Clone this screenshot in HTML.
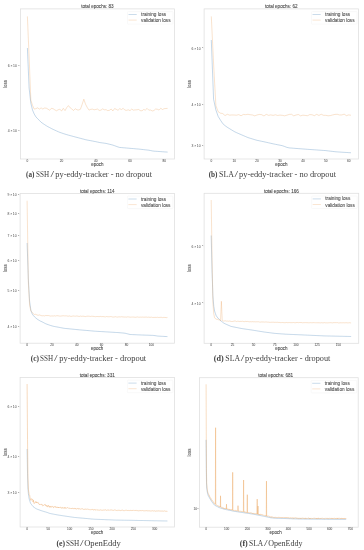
<!DOCTYPE html><html><head><meta charset="utf-8"><style>
html,body{margin:0;padding:0;background:#fff;width:364px;height:550px;overflow:hidden}
svg{position:absolute;left:0;top:0;filter:blur(0.3px)}
.s{font-family:"Liberation Sans",sans-serif}
.c{font-family:"Liberation Serif",serif;fill:#404040}
</style></head><body>
<svg width="364" height="550" viewBox="0 0 364 550">
<polyline points="27.4,48 29.11,88.09 30.82,103.08 32.53,110.07 34.24,114.07 35.95,116.92 37.66,118.69 39.37,120.43 41.08,122.17 42.79,123.44 44.5,124.56 46.21,125.68 47.92,126.69 49.63,127.59 51.34,128.49 53.05,129.35 54.76,130.13 56.47,130.91 58.18,131.69 59.89,132.4 61.6,132.98 63.31,133.57 65.02,134.12 66.73,134.64 68.44,135.11 70.15,135.58 71.86,136.04 73.57,136.51 75.28,136.97 76.99,137.42 78.7,137.88 80.41,138.33 82.12,138.78 83.83,139.23 85.54,139.68 87.25,140.04 88.96,140.36 90.67,140.68 92.38,141.01 94.09,141.33 95.8,141.68 97.51,142.05 99.22,142.43 100.93,142.72 102.64,142.95 104.35,143.18 106.06,143.41 107.77,143.83 109.48,144.24 111.19,144.66 112.9,145.11 114.61,145.73 116.32,146.35 118.03,146.97 119.74,147.45 121.45,147.59 123.16,147.74 124.87,147.89 126.58,148.03 128.29,148.18 130,148.33 131.71,148.47 133.42,148.62 135.13,148.77 136.84,148.91 138.55,149.06 140.26,149.24 141.97,149.43 143.68,149.63 145.39,149.82 147.1,150.01 148.81,150.2 150.52,150.55 152.23,150.9 153.94,151.15 155.65,151.27 157.36,151.39 159.07,151.51 160.78,151.63 162.49,151.75 164.2,151.87 165.91,151.99 167.62,152.1" fill="none" stroke="#4f88bb" stroke-opacity="0.33" stroke-width="1.0" stroke-linejoin="round"/>
<polyline points="27.4,16.4 29.11,57.25 30.82,100.08 32.53,105.35 34.24,109.1 35.95,108.66 37.66,107.84 39.37,109.14 41.08,107.86 42.79,109.01 44.5,108.04 46.21,108.13 47.92,109.11 49.63,110.27 51.34,108.35 53.05,108.66 54.76,109.83 56.47,110.77 58.18,109.77 59.89,109.31 61.6,110.93 63.31,108.33 65.02,110.6 66.73,107.6 68.44,105.6 70.15,107.8 71.86,109.06 73.57,110.49 75.28,108.71 76.99,109.83 78.7,109.99 80.41,109.24 82.12,104.5 83.83,99.2 85.54,104.2 87.25,107.5 88.96,110.11 90.67,109.4 92.38,109.08 94.09,109.84 95.8,109.47 97.51,109.04 99.22,110.42 100.93,110.16 102.64,108.88 104.35,109.81 106.06,109.67 107.77,110.65 109.48,110.24 111.19,109.01 112.9,110.94 114.61,108.53 116.32,109.37 118.03,110.32 119.74,108.63 121.45,109.57 123.16,108.31 124.87,110.07 126.58,110.34 128.29,109.8 130,110.65 131.71,109.08 133.42,110.15 135.13,109.86 136.84,109.82 138.55,109.48 140.26,110.55 141.97,110.85 143.68,109.53 145.39,110.06 147.1,108.37 148.81,110.16 150.52,110.01 152.23,110.98 153.94,110.5 155.65,109 157.36,109.28 159.07,110.07 160.78,108.26 162.49,109.49 164.2,108.67 165.91,108.53 167.62,108.37" fill="none" stroke="#eba35c" stroke-opacity="0.3" stroke-width="1.0" stroke-linejoin="round"/>
<rect x="20.4" y="8.9" width="154.1" height="150.1" fill="none" stroke="#e0e0e0" stroke-width="0.8"/>
<text class="s" x="97.45" y="8.1" font-size="4.6" fill="#4a4a4a" stroke="#4a4a4a" stroke-width="0.1" text-anchor="middle">total epochs: 83</text>
<rect x="127.5" y="11.6" width="45.5" height="12.5" rx="0.8" fill="#fff" stroke="#f2f2f2" stroke-width="0.5"/>
<line x1="128.5" y1="14.5" x2="136.7" y2="14.5" stroke="#4f88bb" stroke-opacity="0.33" stroke-width="0.9"/>
<line x1="128.5" y1="20.1" x2="136.7" y2="20.1" stroke="#eba35c" stroke-opacity="0.3" stroke-width="0.9"/>
<text class="s" x="141.1" y="16" font-size="4.7" fill="#555" stroke="#555" stroke-width="0.1">training loss</text>
<text class="s" x="141.1" y="22.1" font-size="4.7" fill="#555" stroke="#555" stroke-width="0.1">validation loss</text>
<line x1="27.4" y1="159" x2="27.4" y2="159.8" stroke="#d0d0d0" stroke-width="0.35"/>
<text class="s" x="27.4" y="162.1" font-size="3.2" fill="#333" text-anchor="middle">0</text>
<line x1="61.6" y1="159" x2="61.6" y2="159.8" stroke="#d0d0d0" stroke-width="0.35"/>
<text class="s" x="61.6" y="162.1" font-size="3.2" fill="#333" text-anchor="middle">20</text>
<line x1="95.8" y1="159" x2="95.8" y2="159.8" stroke="#d0d0d0" stroke-width="0.35"/>
<text class="s" x="95.8" y="162.1" font-size="3.2" fill="#333" text-anchor="middle">40</text>
<line x1="130" y1="159" x2="130" y2="159.8" stroke="#d0d0d0" stroke-width="0.35"/>
<text class="s" x="130" y="162.1" font-size="3.2" fill="#333" text-anchor="middle">60</text>
<line x1="164.2" y1="159" x2="164.2" y2="159.8" stroke="#d0d0d0" stroke-width="0.35"/>
<text class="s" x="164.2" y="162.1" font-size="3.2" fill="#333" text-anchor="middle">80</text>
<line x1="19.8" y1="66.1" x2="20.4" y2="66.1" stroke="#d0d0d0" stroke-width="0.35"/>
<text class="s" x="19.6" y="67.25" font-size="3.4" fill="#444" text-anchor="end">6 × 10<tspan font-size="2.4" dy="-1.4">−1</tspan></text>
<line x1="19.8" y1="131.2" x2="20.4" y2="131.2" stroke="#d0d0d0" stroke-width="0.35"/>
<text class="s" x="19.6" y="132.35" font-size="3.4" fill="#444" text-anchor="end">4 × 10<tspan font-size="2.4" dy="-1.4">−1</tspan></text>
<text class="s" x="97.45" y="166.1" font-size="4.5" fill="#505050" stroke="#505050" stroke-width="0.1" text-anchor="middle">epoch</text>
<text class="s" transform="translate(7.3,83.95) rotate(-90)" font-size="4.5" fill="#505050" stroke="#505050" stroke-width="0.1" text-anchor="middle">loss</text>
<text class="c" x="26" y="176.8" font-size="7.6" font-weight="bold" textLength="8.4" lengthAdjust="spacingAndGlyphs">(a)</text>
<text class="c" x="36.1" y="176.8" font-size="7.6" textLength="13.1" lengthAdjust="spacingAndGlyphs">SSH</text>
<text class="c" x="50.4" y="176.8" font-size="7.6" textLength="3.6" lengthAdjust="spacingAndGlyphs">/</text>
<text class="c" x="55.3" y="176.8" font-size="7.6" textLength="96.7" lengthAdjust="spacingAndGlyphs">py-eddy-tracker - no dropout</text>
<polyline points="211.3,40 213.59,99.24 215.88,109.91 218.17,116.42 220.46,120.13 222.75,123.62 225.04,125.65 227.33,127.31 229.62,128.71 231.91,130.11 234.2,131.51 236.49,132.64 238.78,133.63 241.07,134.61 243.36,135.6 245.65,136.59 247.94,137.57 250.23,138.28 252.52,138.98 254.81,139.68 257.1,140.33 259.39,140.81 261.68,141.3 263.97,141.78 266.26,142.28 268.55,142.8 270.84,143.31 273.13,143.83 275.42,144.29 277.71,144.75 280,145.21 282.29,145.68 284.58,146.47 286.87,147.39 289.16,147.9 291.45,148.07 293.74,148.25 296.03,148.43 298.32,148.61 300.61,148.78 302.9,148.96 305.19,149.14 307.48,149.3 309.77,149.47 312.06,149.63 314.35,149.79 316.64,149.95 318.93,150.11 321.22,150.28 323.51,150.44 325.8,150.6 328.09,150.88 330.38,151.16 332.67,151.43 334.96,151.71 337.25,151.9 339.54,152.04 341.83,152.19 344.12,152.34 346.41,152.48 348.7,152.63 350.99,152.77" fill="none" stroke="#4f88bb" stroke-opacity="0.33" stroke-width="1.0" stroke-linejoin="round"/>
<polyline points="211.3,16.4 213.59,63.79 215.88,105.63 218.17,111.72 220.46,113.17 222.75,113.57 225.04,115.6 227.33,114.28 229.62,115.17 231.91,114.94 234.2,115.03 236.49,115.19 238.78,114.64 241.07,115.78 243.36,114.44 245.65,114.7 247.94,114.3 250.23,114.74 252.52,114.99 254.81,115.87 257.1,114.93 259.39,114.44 261.68,114.7 263.97,116.01 266.26,114.33 268.55,115.33 270.84,114.89 273.13,115.39 275.42,114.81 277.71,115.44 280,115.08 282.29,115.35 284.58,115.8 286.87,115.21 289.16,114.42 291.45,114.27 293.74,115.85 296.03,115.02 298.32,114.49 300.61,115.83 302.9,115.17 305.19,115.43 307.48,115.7 309.77,114.62 312.06,114.74 314.35,115.68 316.64,114.33 318.93,115.46 321.22,114.25 323.51,115.31 325.8,115.33 328.09,115.77 330.38,115.57 332.67,114.96 334.96,114.4 337.25,114.31 339.54,114.98 341.83,114.94 344.12,114.15 346.41,115.64 348.7,114.92 350.99,115.26" fill="none" stroke="#eba35c" stroke-opacity="0.3" stroke-width="1.0" stroke-linejoin="round"/>
<rect x="204.1" y="8.9" width="154.4" height="150.1" fill="none" stroke="#e0e0e0" stroke-width="0.8"/>
<text class="s" x="281.3" y="8.1" font-size="4.6" fill="#4a4a4a" stroke="#4a4a4a" stroke-width="0.1" text-anchor="middle">total epochs: 62</text>
<rect x="311.5" y="11.6" width="45.5" height="12.5" rx="0.8" fill="#fff" stroke="#f2f2f2" stroke-width="0.5"/>
<line x1="312.5" y1="14.5" x2="320.7" y2="14.5" stroke="#4f88bb" stroke-opacity="0.33" stroke-width="0.9"/>
<line x1="312.5" y1="20.1" x2="320.7" y2="20.1" stroke="#eba35c" stroke-opacity="0.3" stroke-width="0.9"/>
<text class="s" x="325.1" y="16" font-size="4.7" fill="#555" stroke="#555" stroke-width="0.1">training loss</text>
<text class="s" x="325.1" y="22.1" font-size="4.7" fill="#555" stroke="#555" stroke-width="0.1">validation loss</text>
<line x1="211.3" y1="159" x2="211.3" y2="159.8" stroke="#d0d0d0" stroke-width="0.35"/>
<text class="s" x="211.3" y="162.1" font-size="3.2" fill="#333" text-anchor="middle">0</text>
<line x1="234.2" y1="159" x2="234.2" y2="159.8" stroke="#d0d0d0" stroke-width="0.35"/>
<text class="s" x="234.2" y="162.1" font-size="3.2" fill="#333" text-anchor="middle">10</text>
<line x1="257.1" y1="159" x2="257.1" y2="159.8" stroke="#d0d0d0" stroke-width="0.35"/>
<text class="s" x="257.1" y="162.1" font-size="3.2" fill="#333" text-anchor="middle">20</text>
<line x1="280" y1="159" x2="280" y2="159.8" stroke="#d0d0d0" stroke-width="0.35"/>
<text class="s" x="280" y="162.1" font-size="3.2" fill="#333" text-anchor="middle">30</text>
<line x1="302.9" y1="159" x2="302.9" y2="159.8" stroke="#d0d0d0" stroke-width="0.35"/>
<text class="s" x="302.9" y="162.1" font-size="3.2" fill="#333" text-anchor="middle">40</text>
<line x1="325.8" y1="159" x2="325.8" y2="159.8" stroke="#d0d0d0" stroke-width="0.35"/>
<text class="s" x="325.8" y="162.1" font-size="3.2" fill="#333" text-anchor="middle">50</text>
<line x1="348.7" y1="159" x2="348.7" y2="159.8" stroke="#d0d0d0" stroke-width="0.35"/>
<text class="s" x="348.7" y="162.1" font-size="3.2" fill="#333" text-anchor="middle">60</text>
<line x1="203.5" y1="48.7" x2="204.1" y2="48.7" stroke="#d0d0d0" stroke-width="0.35"/>
<text class="s" x="203.3" y="49.85" font-size="3.4" fill="#444" text-anchor="end">6 × 10<tspan font-size="2.4" dy="-1.4">−1</tspan></text>
<line x1="203.5" y1="104.8" x2="204.1" y2="104.8" stroke="#d0d0d0" stroke-width="0.35"/>
<text class="s" x="203.3" y="105.95" font-size="3.4" fill="#444" text-anchor="end">4 × 10<tspan font-size="2.4" dy="-1.4">−1</tspan></text>
<line x1="203.5" y1="146.1" x2="204.1" y2="146.1" stroke="#d0d0d0" stroke-width="0.35"/>
<text class="s" x="203.3" y="147.25" font-size="3.4" fill="#444" text-anchor="end">3 × 10<tspan font-size="2.4" dy="-1.4">−1</tspan></text>
<text class="s" x="281.3" y="166.1" font-size="4.5" fill="#505050" stroke="#505050" stroke-width="0.1" text-anchor="middle">epoch</text>
<text class="s" transform="translate(191,83.95) rotate(-90)" font-size="4.5" fill="#505050" stroke="#505050" stroke-width="0.1" text-anchor="middle">loss</text>
<text class="c" x="208.7" y="176.8" font-size="7.6" font-weight="bold" textLength="8.8" lengthAdjust="spacingAndGlyphs">(b)</text>
<text class="c" x="219" y="176.8" font-size="7.6" textLength="15" lengthAdjust="spacingAndGlyphs">SLA</text>
<text class="c" x="234.6" y="176.8" font-size="7.6" textLength="3.6" lengthAdjust="spacingAndGlyphs">/</text>
<text class="c" x="239" y="176.8" font-size="7.6" textLength="97" lengthAdjust="spacingAndGlyphs">py-eddy-tracker - no dropout</text>
<polyline points="27.1,243 28.34,279.04 29.58,301.03 30.83,310.08 32.07,313.6 33.31,315.46 34.55,316.86 35.79,317.94 37.04,319.02 38.28,319.8 39.52,320.57 40.76,321.25 42,321.8 43.25,322.45 44.49,323.11 45.73,323.76 46.97,324.24 48.21,324.67 49.46,325.11 50.7,325.51 51.94,325.88 53.18,326.23 54.42,326.47 55.67,326.71 56.91,326.95 58.15,327.18 59.39,327.42 60.63,327.66 61.88,327.89 63.12,328.13 64.36,328.34 65.6,328.46 66.84,328.58 68.09,328.71 69.33,328.83 70.57,328.96 71.81,329.08 73.05,329.21 74.3,329.33 75.54,329.45 76.78,329.58 78.02,329.7 79.26,329.83 80.51,329.94 81.75,330.05 82.99,330.15 84.23,330.25 85.47,330.36 86.72,330.46 87.96,330.57 89.2,330.68 90.44,330.79 91.68,330.91 92.93,331.02 94.17,331.13 95.41,331.22 96.65,331.3 97.89,331.37 99.14,331.45 100.38,331.52 101.62,331.6 102.86,331.67 104.1,331.74 105.35,331.82 106.59,331.89 107.83,331.97 109.07,332.04 110.31,332.12 111.56,332.19 112.8,332.26 114.04,332.34 115.28,332.41 116.52,332.49 117.77,332.56 119.01,332.66 120.25,332.77 121.49,332.88 122.73,332.99 123.98,333.11 125.22,333.26 126.46,333.58 127.7,333.9 128.94,334.23 130.19,334.51 131.43,334.56 132.67,334.61 133.91,334.67 135.15,334.72 136.4,334.77 137.64,334.83 138.88,334.88 140.12,334.93 141.36,334.99 142.61,335.03 143.85,335.07 145.09,335.12 146.33,335.16 147.57,335.2 148.82,335.24 150.06,335.29 151.3,335.33 152.54,335.37 153.78,335.46 155.03,335.65 156.27,335.84 157.51,336.03 158.75,336.14 159.99,336.2 161.24,336.27 162.48,336.34 163.72,336.4 164.96,336.47 166.2,336.53 167.45,336.6" fill="none" stroke="#4f88bb" stroke-opacity="0.33" stroke-width="1.0" stroke-linejoin="round"/>
<polyline points="27.1,200.7 28.34,282.04 29.58,305.02 30.83,310.95 32.07,312.51 33.31,313.59 34.55,314.54 35.79,314.3 37.04,315.01 38.28,315.25 39.52,314.92 40.76,315.41 42,315.87 43.25,315.68 44.49,315.91 45.73,315.48 46.97,315.57 48.21,315.5 49.46,315.81 50.7,316.12 51.94,315.9 53.18,316.04 54.42,315.79 55.67,316.05 56.91,315.65 58.15,315.79 59.39,316.05 60.63,316.09 61.88,315.92 63.12,315.74 64.36,315.87 65.6,315.86 66.84,315.92 68.09,316.24 69.33,315.92 70.57,316.32 71.81,316.33 73.05,315.92 74.3,316.11 75.54,316.19 76.78,315.97 78.02,316.2 79.26,316.46 80.51,316.08 81.75,316.34 82.99,316.13 84.23,316.38 85.47,316.55 86.72,316.24 87.96,316.17 89.2,316.23 90.44,316.46 91.68,316.24 92.93,316.29 94.17,316.5 95.41,316.71 96.65,316.51 97.89,316.52 99.14,316.65 100.38,316.43 101.62,316.66 102.86,316.5 104.1,316.71 105.35,316.89 106.59,316.51 107.83,316.75 109.07,316.79 110.31,316.62 111.56,316.69 112.8,317.02 114.04,317.04 115.28,316.69 116.52,316.96 117.77,317.08 119.01,316.8 120.25,316.97 121.49,316.75 122.73,316.9 123.98,317.04 125.22,317.02 126.46,317.11 127.7,316.84 128.94,316.97 130.19,317.19 131.43,317.09 132.67,317.05 133.91,317.05 135.15,317.3 136.4,317.15 137.64,316.94 138.88,317.27 140.12,317.1 141.36,317.15 142.61,317.08 143.85,317.19 145.09,317.15 146.33,317.07 147.57,317.31 148.82,317.11 150.06,317.4 151.3,317.11 152.54,317.43 153.78,317.46 155.03,317.35 156.27,317.45 157.51,317.28 158.75,317.49 159.99,317.38 161.24,317.31 162.48,317.63 163.72,317.41 164.96,317.42 166.2,317.63 167.45,317.45" fill="none" stroke="#eba35c" stroke-opacity="0.3" stroke-width="1.0" stroke-linejoin="round"/>
<rect x="20.1" y="193.4" width="154.3" height="149.8" fill="none" stroke="#e0e0e0" stroke-width="0.8"/>
<text class="s" x="97.25" y="192.6" font-size="4.6" fill="#4a4a4a" stroke="#4a4a4a" stroke-width="0.1" text-anchor="middle">total epochs: 114</text>
<rect x="127.4" y="196.1" width="45.5" height="12.5" rx="0.8" fill="#fff" stroke="#f2f2f2" stroke-width="0.5"/>
<line x1="128.4" y1="199" x2="136.6" y2="199" stroke="#4f88bb" stroke-opacity="0.33" stroke-width="0.9"/>
<line x1="128.4" y1="204.6" x2="136.6" y2="204.6" stroke="#eba35c" stroke-opacity="0.3" stroke-width="0.9"/>
<text class="s" x="141" y="200.5" font-size="4.7" fill="#555" stroke="#555" stroke-width="0.1">training loss</text>
<text class="s" x="141" y="206.6" font-size="4.7" fill="#555" stroke="#555" stroke-width="0.1">validation loss</text>
<line x1="27.1" y1="343.2" x2="27.1" y2="344" stroke="#d0d0d0" stroke-width="0.35"/>
<text class="s" x="27.1" y="346.3" font-size="3.2" fill="#333" text-anchor="middle">0</text>
<line x1="51.94" y1="343.2" x2="51.94" y2="344" stroke="#d0d0d0" stroke-width="0.35"/>
<text class="s" x="51.94" y="346.3" font-size="3.2" fill="#333" text-anchor="middle">20</text>
<line x1="76.78" y1="343.2" x2="76.78" y2="344" stroke="#d0d0d0" stroke-width="0.35"/>
<text class="s" x="76.78" y="346.3" font-size="3.2" fill="#333" text-anchor="middle">40</text>
<line x1="101.62" y1="343.2" x2="101.62" y2="344" stroke="#d0d0d0" stroke-width="0.35"/>
<text class="s" x="101.62" y="346.3" font-size="3.2" fill="#333" text-anchor="middle">60</text>
<line x1="126.46" y1="343.2" x2="126.46" y2="344" stroke="#d0d0d0" stroke-width="0.35"/>
<text class="s" x="126.46" y="346.3" font-size="3.2" fill="#333" text-anchor="middle">80</text>
<line x1="151.3" y1="343.2" x2="151.3" y2="344" stroke="#d0d0d0" stroke-width="0.35"/>
<text class="s" x="151.3" y="346.3" font-size="3.2" fill="#333" text-anchor="middle">100</text>
<line x1="19.5" y1="195.1" x2="20.1" y2="195.1" stroke="#d0d0d0" stroke-width="0.35"/>
<text class="s" x="19.3" y="196.25" font-size="3.4" fill="#444" text-anchor="end">9 × 10<tspan font-size="2.4" dy="-1.4">−1</tspan></text>
<line x1="19.5" y1="214.3" x2="20.1" y2="214.3" stroke="#d0d0d0" stroke-width="0.35"/>
<text class="s" x="19.3" y="215.45" font-size="3.4" fill="#444" text-anchor="end">8 × 10<tspan font-size="2.4" dy="-1.4">−1</tspan></text>
<line x1="19.5" y1="236" x2="20.1" y2="236" stroke="#d0d0d0" stroke-width="0.35"/>
<text class="s" x="19.3" y="237.15" font-size="3.4" fill="#444" text-anchor="end">7 × 10<tspan font-size="2.4" dy="-1.4">−1</tspan></text>
<line x1="19.5" y1="261" x2="20.1" y2="261" stroke="#d0d0d0" stroke-width="0.35"/>
<text class="s" x="19.3" y="262.15" font-size="3.4" fill="#444" text-anchor="end">6 × 10<tspan font-size="2.4" dy="-1.4">−1</tspan></text>
<line x1="19.5" y1="290.8" x2="20.1" y2="290.8" stroke="#d0d0d0" stroke-width="0.35"/>
<text class="s" x="19.3" y="291.95" font-size="3.4" fill="#444" text-anchor="end">5 × 10<tspan font-size="2.4" dy="-1.4">−1</tspan></text>
<line x1="19.5" y1="327.1" x2="20.1" y2="327.1" stroke="#d0d0d0" stroke-width="0.35"/>
<text class="s" x="19.3" y="328.25" font-size="3.4" fill="#444" text-anchor="end">4 × 10<tspan font-size="2.4" dy="-1.4">−1</tspan></text>
<text class="s" x="97.25" y="350.3" font-size="4.5" fill="#505050" stroke="#505050" stroke-width="0.1" text-anchor="middle">epoch</text>
<text class="s" transform="translate(7.3,268.3) rotate(-90)" font-size="4.5" fill="#505050" stroke="#505050" stroke-width="0.1" text-anchor="middle">loss</text>
<text class="c" x="30.7" y="361.1" font-size="7.6" font-weight="bold" textLength="8.3" lengthAdjust="spacingAndGlyphs">(c)</text>
<text class="c" x="40.1" y="361.1" font-size="7.6" textLength="13.1" lengthAdjust="spacingAndGlyphs">SSH</text>
<text class="c" x="53.9" y="361.1" font-size="7.6" textLength="3.6" lengthAdjust="spacingAndGlyphs">/</text>
<text class="c" x="59.3" y="361.1" font-size="7.6" textLength="86.9" lengthAdjust="spacingAndGlyphs">py-eddy-tracker - dropout</text>
<polyline points="211.2,235.5 212.05,271.91 212.9,295.89 213.74,306.02 214.59,311.01 215.44,313.71 216.29,315.88 217.14,316.98 217.98,318.09 218.83,318.99 219.68,319.78 220.53,320.56 221.38,321.28 222.22,321.92 223.07,322.55 223.92,323.19 224.77,323.65 225.62,324.02 226.46,324.4 227.31,324.77 228.16,325.15 229.01,325.52 229.86,325.9 230.7,326.27 231.55,326.51 232.4,326.68 233.25,326.85 234.1,327.02 234.94,327.19 235.79,327.36 236.64,327.53 237.49,327.7 238.34,327.87 239.18,328.04 240.03,328.21 240.88,328.38 241.73,328.55 242.58,328.68 243.42,328.81 244.27,328.93 245.12,329.05 245.97,329.18 246.82,329.3 247.66,329.42 248.51,329.55 249.36,329.67 250.21,329.79 251.06,329.92 251.9,330.04 252.75,330.16 253.6,330.3 254.45,330.44 255.3,330.58 256.14,330.71 256.99,330.85 257.84,330.99 258.69,331.13 259.54,331.27 260.38,331.41 261.23,331.55 262.08,331.69 262.93,331.82 263.78,331.96 264.62,332.08 265.47,332.19 266.32,332.3 267.17,332.4 268.02,332.51 268.86,332.62 269.71,332.73 270.56,332.83 271.41,332.94 272.26,333.05 273.1,333.16 273.95,333.27 274.8,333.37 275.65,333.45 276.5,333.51 277.34,333.57 278.19,333.63 279.04,333.69 279.89,333.76 280.74,333.82 281.58,333.88 282.43,333.94 283.28,334 284.13,334.06 284.98,334.13 285.82,334.19 286.67,334.23 287.52,334.27 288.37,334.3 289.22,334.34 290.06,334.37 290.91,334.41 291.76,334.45 292.61,334.48 293.46,334.52 294.3,334.56 295.15,334.59 296,334.63 296.85,334.66 297.7,334.7 298.54,334.74 299.39,334.77 300.24,334.81 301.09,334.85 301.94,334.89 302.78,334.93 303.63,334.97 304.48,335.01 305.33,335.04 306.18,335.08 307.02,335.12 307.87,335.16 308.72,335.2 309.57,335.24 310.42,335.28 311.26,335.32 312.11,335.36 312.96,335.39 313.81,335.43 314.66,335.47 315.5,335.51 316.35,335.55 317.2,335.59 318.05,335.63 318.9,335.67 319.74,335.7 320.59,335.74 321.44,335.78 322.29,335.82 323.14,335.86 323.98,335.9 324.83,335.92 325.68,335.94 326.53,335.96 327.38,335.97 328.22,335.99 329.07,336.01 329.92,336.03 330.77,336.05 331.62,336.07 332.46,336.09 333.31,336.1 334.16,336.12 335.01,336.14 335.86,336.16 336.7,336.18 337.55,336.2 338.4,336.22 339.25,336.23 340.1,336.25 340.94,336.27 341.79,336.29 342.64,336.31 343.49,336.33 344.34,336.35 345.18,336.36 346.03,336.38 346.88,336.4 347.73,336.42 348.58,336.44 349.42,336.46 350.27,336.48 351.12,336.49" fill="none" stroke="#4f88bb" stroke-opacity="0.33" stroke-width="1.0" stroke-linejoin="round"/>
<polyline points="211.2,200 212.05,257.86 212.9,302.79 213.74,313.74 214.59,317.79 215.44,318.69 216.29,319.23 217.14,319.11 217.98,319.71 218.83,319.81 219.68,319.98 220.53,320.74 221.38,301.3 222.22,320.49 223.07,321.1 223.92,320.97 224.77,320.86 225.62,320.84 226.46,321.13 227.31,321.04 228.16,321.22 229.01,321.25 229.86,320.98 230.7,321.37 231.55,321.5 232.4,321.51 233.25,321.33 234.1,321.04 234.94,321.04 235.79,321.13 236.64,321.55 237.49,321.25 238.34,321.3 239.18,321.57 240.03,321.31 240.88,321.45 241.73,321.42 242.58,321.27 243.42,321.53 244.27,321.67 245.12,321.39 245.97,321.45 246.82,321.55 247.66,321.42 248.51,321.63 249.36,321.78 250.21,321.74 251.06,321.71 251.9,321.86 252.75,321.61 253.6,321.8 254.45,321.75 255.3,321.86 256.14,321.69 256.99,321.97 257.84,321.74 258.69,321.79 259.54,322.04 260.38,322.12 261.23,321.96 262.08,321.97 262.93,321.94 263.78,321.97 264.62,322.11 265.47,321.98 266.32,321.99 267.17,322.13 268.02,322.05 268.86,322.24 269.71,322.32 270.56,322.33 271.41,322.25 272.26,322.23 273.1,322.28 273.95,322.16 274.8,322.42 275.65,322.32 276.5,322.34 277.34,322.28 278.19,322.42 279.04,322.49 279.89,322.45 280.74,322.63 281.58,322.59 282.43,322.47 283.28,322.59 284.13,322.73 284.98,322.61 285.82,322.64 286.67,322.47 287.52,322.61 288.37,322.6 289.22,322.58 290.06,322.59 290.91,322.65 291.76,322.64 292.61,322.62 293.46,322.52 294.3,322.61 295.15,322.78 296,322.61 296.85,322.49 297.7,322.49 298.54,322.65 299.39,322.51 300.24,322.52 301.09,322.53 301.94,322.64 302.78,322.81 303.63,322.65 304.48,322.65 305.33,322.64 306.18,322.67 307.02,322.65 307.87,322.74 308.72,322.79 309.57,322.74 310.42,322.65 311.26,322.73 312.11,322.81 312.96,322.58 313.81,322.61 314.66,322.73 315.5,322.75 316.35,322.74 317.2,322.73 318.05,322.8 318.9,322.7 319.74,322.8 320.59,322.85 321.44,322.69 322.29,322.82 323.14,322.78 323.98,322.84 324.83,322.58 325.68,322.85 326.53,322.81 327.38,322.87 328.22,322.88 329.07,322.67 329.92,322.79 330.77,322.63 331.62,322.77 332.46,322.87 333.31,322.65 334.16,322.7 335.01,322.62 335.86,322.66 336.7,322.67 337.55,322.64 338.4,322.91 339.25,322.88 340.1,322.76 340.94,322.84 341.79,322.83 342.64,322.78 343.49,322.75 344.34,322.83 345.18,322.8 346.03,322.71 346.88,322.75 347.73,322.83 348.58,322.83 349.42,322.71 350.27,322.83 351.12,322.91" fill="none" stroke="#eba35c" stroke-opacity="0.3" stroke-width="1.0" stroke-linejoin="round"/>
<rect x="204.1" y="193.3" width="154.6" height="150" fill="none" stroke="#e0e0e0" stroke-width="0.8"/>
<text class="s" x="281.4" y="192.5" font-size="4.6" fill="#4a4a4a" stroke="#4a4a4a" stroke-width="0.1" text-anchor="middle">total epochs: 166</text>
<rect x="311.7" y="196" width="45.5" height="12.5" rx="0.8" fill="#fff" stroke="#f2f2f2" stroke-width="0.5"/>
<line x1="312.7" y1="198.9" x2="320.9" y2="198.9" stroke="#4f88bb" stroke-opacity="0.33" stroke-width="0.9"/>
<line x1="312.7" y1="204.5" x2="320.9" y2="204.5" stroke="#eba35c" stroke-opacity="0.3" stroke-width="0.9"/>
<text class="s" x="325.3" y="200.4" font-size="4.7" fill="#555" stroke="#555" stroke-width="0.1">training loss</text>
<text class="s" x="325.3" y="206.5" font-size="4.7" fill="#555" stroke="#555" stroke-width="0.1">validation loss</text>
<line x1="211.2" y1="343.3" x2="211.2" y2="344.1" stroke="#d0d0d0" stroke-width="0.35"/>
<text class="s" x="211.2" y="346.4" font-size="3.2" fill="#333" text-anchor="middle">0</text>
<line x1="232.4" y1="343.3" x2="232.4" y2="344.1" stroke="#d0d0d0" stroke-width="0.35"/>
<text class="s" x="232.4" y="346.4" font-size="3.2" fill="#333" text-anchor="middle">25</text>
<line x1="253.6" y1="343.3" x2="253.6" y2="344.1" stroke="#d0d0d0" stroke-width="0.35"/>
<text class="s" x="253.6" y="346.4" font-size="3.2" fill="#333" text-anchor="middle">50</text>
<line x1="274.8" y1="343.3" x2="274.8" y2="344.1" stroke="#d0d0d0" stroke-width="0.35"/>
<text class="s" x="274.8" y="346.4" font-size="3.2" fill="#333" text-anchor="middle">75</text>
<line x1="296" y1="343.3" x2="296" y2="344.1" stroke="#d0d0d0" stroke-width="0.35"/>
<text class="s" x="296" y="346.4" font-size="3.2" fill="#333" text-anchor="middle">100</text>
<line x1="317.2" y1="343.3" x2="317.2" y2="344.1" stroke="#d0d0d0" stroke-width="0.35"/>
<text class="s" x="317.2" y="346.4" font-size="3.2" fill="#333" text-anchor="middle">125</text>
<line x1="338.4" y1="343.3" x2="338.4" y2="344.1" stroke="#d0d0d0" stroke-width="0.35"/>
<text class="s" x="338.4" y="346.4" font-size="3.2" fill="#333" text-anchor="middle">150</text>
<line x1="203.5" y1="246.7" x2="204.1" y2="246.7" stroke="#d0d0d0" stroke-width="0.35"/>
<text class="s" x="203.3" y="247.85" font-size="3.4" fill="#444" text-anchor="end">6 × 10<tspan font-size="2.4" dy="-1.4">−1</tspan></text>
<line x1="203.5" y1="303.5" x2="204.1" y2="303.5" stroke="#d0d0d0" stroke-width="0.35"/>
<text class="s" x="203.3" y="304.65" font-size="3.4" fill="#444" text-anchor="end">4 × 10<tspan font-size="2.4" dy="-1.4">−1</tspan></text>
<text class="s" x="281.4" y="350.4" font-size="4.5" fill="#505050" stroke="#505050" stroke-width="0.1" text-anchor="middle">epoch</text>
<text class="s" transform="translate(191,268.3) rotate(-90)" font-size="4.5" fill="#505050" stroke="#505050" stroke-width="0.1" text-anchor="middle">loss</text>
<text class="c" x="213.7" y="361.1" font-size="7.6" font-weight="bold" textLength="9.9" lengthAdjust="spacingAndGlyphs">(d)</text>
<text class="c" x="225.3" y="361.1" font-size="7.6" textLength="14.8" lengthAdjust="spacingAndGlyphs">SLA</text>
<text class="c" x="240.7" y="361.1" font-size="7.6" textLength="3.6" lengthAdjust="spacingAndGlyphs">/</text>
<text class="c" x="245.1" y="361.1" font-size="7.6" textLength="85.2" lengthAdjust="spacingAndGlyphs">py-eddy-tracker - dropout</text>
<polyline points="27.1,449 27.53,473.73 27.95,488.01 28.38,493.68 28.8,496.51 29.23,499.09 29.65,500.46 30.08,501.83 30.5,503.2 30.93,503.76 31.35,504.33 31.78,504.89 32.2,505.45 32.63,506.01 33.05,506.54 33.48,506.85 33.9,507.16 34.33,507.48 34.76,507.79 35.18,508.1 35.61,508.41 36.03,508.71 36.46,508.87 36.88,509.04 37.31,509.2 37.73,509.36 38.16,509.52 38.58,509.68 39.01,509.84 39.43,510 39.86,510.17 40.28,510.33 40.71,510.49 41.13,510.64 41.56,510.77 41.99,510.9 42.41,511.02 42.84,511.15 43.26,511.28 43.69,511.41 44.11,511.53 44.54,511.66 44.96,511.79 45.39,511.92 45.81,512.04 46.24,512.17 46.66,512.3 47.09,512.43 47.51,512.59 47.94,512.74 48.37,512.9 48.79,513.06 49.22,513.21 49.64,513.37 50.07,513.51 50.49,513.59 50.92,513.67 51.34,513.75 51.77,513.83 52.19,513.91 52.62,513.99 53.04,514.07 53.47,514.15 53.89,514.23 54.32,514.31 54.74,514.39 55.17,514.47 55.6,514.55 56.02,514.63 56.45,514.71 56.87,514.79 57.3,514.87 57.72,514.95 58.15,515.02 58.57,515.09 59,515.15 59.42,515.22 59.85,515.28 60.27,515.35 60.7,515.42 61.12,515.48 61.55,515.55 61.97,515.61 62.4,515.68 62.83,515.74 63.25,515.81 63.68,515.87 64.1,515.93 64.53,515.99 64.95,516.05 65.38,516.12 65.8,516.18 66.23,516.24 66.65,516.3 67.08,516.36 67.5,516.43 67.93,516.49 68.35,516.55 68.78,516.61 69.2,516.67 69.63,516.74 70.06,516.8 70.48,516.86 70.91,516.92 71.33,516.98 71.76,517.04 72.18,517.11 72.61,517.17 73.03,517.23 73.46,517.29 73.88,517.35 74.31,517.41 74.73,517.45 75.16,517.49 75.58,517.53 76.01,517.56 76.43,517.6 76.86,517.64 77.29,517.68 77.71,517.72 78.14,517.76 78.56,517.8 78.99,517.84 79.41,517.87 79.84,517.91 80.26,517.95 80.69,517.99 81.11,518.03 81.54,518.07 81.96,518.11 82.39,518.14 82.81,518.18 83.24,518.22 83.66,518.26 84.09,518.3 84.52,518.34 84.94,518.38 85.37,518.42 85.79,518.45 86.22,518.49 86.64,518.53 87.07,518.57 87.49,518.61 87.92,518.65 88.34,518.69 88.77,518.72 89.19,518.76 89.62,518.8 90.04,518.84 90.47,518.88 90.9,518.92 91.32,518.96 91.75,519 92.17,519.03 92.6,519.07 93.02,519.11 93.45,519.15 93.87,519.19 94.3,519.21 94.72,519.23 95.15,519.25 95.57,519.26 96,519.28 96.42,519.3 96.85,519.32 97.27,519.33 97.7,519.35 98.13,519.37 98.55,519.39 98.98,519.4 99.4,519.42 99.83,519.44 100.25,519.46 100.68,519.47 101.1,519.49 101.53,519.51 101.95,519.53 102.38,519.54 102.8,519.56 103.23,519.58 103.65,519.59 104.08,519.61 104.5,519.63 104.93,519.65 105.36,519.66 105.78,519.68 106.21,519.7 106.63,519.72 107.06,519.73 107.48,519.75 107.91,519.77 108.33,519.79 108.76,519.8 109.18,519.82 109.61,519.84 110.03,519.86 110.46,519.87 110.88,519.89 111.31,519.91 111.73,519.93 112.16,519.94 112.59,519.96 113.01,519.98 113.44,520 113.86,520.01 114.29,520.03 114.71,520.05 115.14,520.06 115.56,520.08 115.99,520.1 116.41,520.11 116.84,520.11 117.26,520.12 117.69,520.12 118.11,520.13 118.54,520.14 118.96,520.14 119.39,520.15 119.82,520.15 120.24,520.16 120.67,520.17 121.09,520.17 121.52,520.18 121.94,520.18 122.37,520.19 122.79,520.2 123.22,520.2 123.64,520.21 124.07,520.22 124.49,520.22 124.92,520.23 125.34,520.23 125.77,520.24 126.19,520.25 126.62,520.25 127.05,520.26 127.47,520.26 127.9,520.27 128.32,520.28 128.75,520.28 129.17,520.29 129.6,520.29 130.02,520.3 130.45,520.31 130.87,520.32 131.3,520.32 131.72,520.33 132.15,520.34 132.57,520.35 133,520.36 133.43,520.36 133.85,520.37 134.28,520.38 134.7,520.39 135.13,520.4 135.55,520.4 135.98,520.41 136.4,520.42 136.83,520.43 137.25,520.44 137.68,520.44 138.1,520.45 138.53,520.46 138.95,520.47 139.38,520.48 139.8,520.48 140.23,520.49 140.66,520.5 141.08,520.51 141.51,520.51 141.93,520.52 142.36,520.53 142.78,520.54 143.21,520.55 143.63,520.55 144.06,520.56 144.48,520.57 144.91,520.58 145.33,520.59 145.76,520.59 146.18,520.6 146.61,520.61 147.03,520.62 147.46,520.63 147.89,520.63 148.31,520.64 148.74,520.65 149.16,520.66 149.59,520.67 150.01,520.67 150.44,520.68 150.86,520.69 151.29,520.7 151.71,520.71 152.14,520.71 152.56,520.72 152.99,520.73 153.41,520.74 153.84,520.75 154.26,520.75 154.69,520.76 155.12,520.77 155.54,520.78 155.97,520.78 156.39,520.79 156.82,520.8 157.24,520.81 157.67,520.82 158.09,520.82 158.52,520.83 158.94,520.84 159.37,520.85 159.79,520.86 160.22,520.86 160.64,520.87 161.07,520.88 161.49,520.89 161.92,520.9 162.35,520.9 162.77,520.91 163.2,520.92 163.62,520.93 164.05,520.94 164.47,520.94 164.9,520.95 165.32,520.96 165.75,520.97 166.17,520.98 166.6,520.98 167.02,520.99 167.45,521" fill="none" stroke="#4f88bb" stroke-opacity="0.32" stroke-width="1.0" stroke-linejoin="round"/>
<polyline points="27.1,384 27.53,439.39 27.95,478.02 28.38,489.24 28.8,492.22 29.23,494.81 29.65,495.39 30.08,497.77 30.5,499.43 30.93,500.5 31.35,498.79 31.78,498.8 32.2,499.53 32.63,499.3 33.05,501.95 33.48,500.29 33.9,503.35 34.33,503.47 34.76,502.73 35.18,502.78 35.61,501.66 36.03,501.45 36.46,503.01 36.88,501.92 37.31,502.45 37.73,502.75 38.16,502.38 38.58,503.6 39.01,503.65 39.43,504.75 39.86,504.06 40.28,504.46 40.71,504.23 41.13,504.71 41.56,504.34 41.99,504.04 42.41,505.76 42.84,505.85 43.26,505.61 43.69,505.42 44.11,504.69 44.54,504.62 44.96,504.85 45.39,504.52 45.81,506.04 46.24,505.41 46.66,506.4 47.09,505.6 47.51,506.81 47.94,506.71 48.37,505.23 48.79,505.74 49.22,507.14 49.64,506.45 50.07,507.46 50.49,506.48 50.92,505.96 51.34,506.97 51.77,507.27 52.19,506.46 52.62,506.21 53.04,506.67 53.47,507.74 53.89,507.45 54.32,506.48 54.74,506.74 55.17,506.57 55.6,506.56 56.02,507.72 56.45,506.85 56.87,507.46 57.3,507.34 57.72,507.02 58.15,507.84 58.57,507.02 59,507.76 59.42,507.06 59.85,507.51 60.27,507.26 60.7,507.37 61.12,508.32 61.55,508.12 61.97,507.5 62.4,508.28 62.83,507.44 63.25,507.7 63.68,508.3 64.1,508.07 64.53,507.43 64.95,508.54 65.38,507.63 65.8,507.72 66.23,508.35 66.65,507.86 67.08,507.85 67.5,507.63 67.93,507.68 68.35,508.26 68.78,507.91 69.2,508.33 69.63,508.11 70.06,508.22 70.48,508.79 70.91,508.31 71.33,508.43 71.76,508.76 72.18,508.09 72.61,508.09 73.03,508.88 73.46,508.81 73.88,508.27 74.31,508.24 74.73,508.81 75.16,509.03 75.58,508.34 76.01,509.08 76.43,509.04 76.86,508.81 77.29,508.66 77.71,508.4 78.14,508.37 78.56,509.24 78.99,508.61 79.41,509.05 79.84,508.68 80.26,509.21 80.69,509.04 81.11,508.8 81.54,508.73 81.96,509.22 82.39,508.69 82.81,508.86 83.24,509.17 83.66,509.44 84.09,509.26 84.52,509.02 84.94,509.56 85.37,509.01 85.79,508.89 86.22,509.12 86.64,509.29 87.07,509.01 87.49,509.13 87.92,509.31 88.34,509.5 88.77,509.18 89.19,509.39 89.62,509.82 90.04,509.91 90.47,509.69 90.9,509.75 91.32,509.69 91.75,509.39 92.17,509.34 92.6,509.36 93.02,510.04 93.45,509.91 93.87,510.13 94.3,509.46 94.72,509.91 95.15,509.81 95.57,509.99 96,509.71 96.42,510.2 96.85,509.56 97.27,509.9 97.7,510.04 98.13,510.16 98.55,510.05 98.98,510.04 99.4,510.1 99.83,510.19 100.25,509.82 100.68,510.05 101.1,510.2 101.53,510.19 101.95,509.9 102.38,510.15 102.8,510.21 103.23,510.03 103.65,510.07 104.08,509.92 104.5,510.06 104.93,510.08 105.36,509.75 105.78,510.12 106.21,510.35 106.63,510.29 107.06,510.2 107.48,509.99 107.91,510.22 108.33,510.13 108.76,510.05 109.18,510.31 109.61,509.85 110.03,510.27 110.46,509.83 110.88,510.19 111.31,510.12 111.73,509.98 112.16,510.27 112.59,510.16 113.01,510.24 113.44,510.43 113.86,510.04 114.29,509.9 114.71,510.08 115.14,510.32 115.56,510.04 115.99,510.03 116.41,510.48 116.84,510.34 117.26,510.22 117.69,510.49 118.11,510.17 118.54,510.37 118.96,510.11 119.39,510.25 119.82,510.48 120.24,510.55 120.67,510.54 121.09,510.26 121.52,510.38 121.94,510.24 122.37,510.14 122.79,510.36 123.22,510.56 123.64,510.57 124.07,510.5 124.49,510.65 124.92,510.28 125.34,510.22 125.77,510.39 126.19,510.3 126.62,510.27 127.05,510.39 127.47,510.52 127.9,510.46 128.32,510.36 128.75,510.66 129.17,510.75 129.6,510.47 130.02,510.27 130.45,510.25 130.87,510.72 131.3,510.27 131.72,510.64 132.15,510.57 132.57,510.44 133,510.71 133.43,510.29 133.85,510.36 134.28,510.54 134.7,510.32 135.13,510.76 135.55,510.45 135.98,510.4 136.4,510.36 136.83,510.68 137.25,510.59 137.68,510.69 138.1,510.71 138.53,510.8 138.95,510.89 139.38,510.75 139.8,510.5 140.23,510.65 140.66,510.5 141.08,510.42 141.51,510.67 141.93,510.8 142.36,510.53 142.78,510.58 143.21,510.63 143.63,510.82 144.06,510.74 144.48,510.79 144.91,510.87 145.33,510.69 145.76,510.91 146.18,510.97 146.61,510.55 147.03,511 147.46,510.9 147.89,510.59 148.31,510.77 148.74,510.87 149.16,511.02 149.59,510.75 150.01,510.86 150.44,511.03 150.86,510.99 151.29,511.07 151.71,510.83 152.14,510.93 152.56,510.71 152.99,510.98 153.41,511.04 153.84,510.96 154.26,511 154.69,510.75 155.12,511.11 155.54,511.16 155.97,511.16 156.39,510.94 156.82,511.08 157.24,510.84 157.67,511.15 158.09,511.13 158.52,510.88 158.94,510.75 159.37,510.94 159.79,511 160.22,511.12 160.64,510.98 161.07,510.75 161.49,511.16 161.92,510.79 162.35,511.17 162.77,510.86 163.2,510.95 163.62,511.19 164.05,510.86 164.47,510.87 164.9,511.07 165.32,511.18 165.75,511.25 166.17,511.18 166.6,511.31 167.02,511.09 167.45,511.33" fill="none" stroke="#eba35c" stroke-opacity="0.4" stroke-width="1.0" stroke-linejoin="round"/>
<rect x="20.1" y="377.5" width="154.3" height="149.5" fill="none" stroke="#e0e0e0" stroke-width="0.8"/>
<text class="s" x="97.25" y="376.7" font-size="4.6" fill="#4a4a4a" stroke="#4a4a4a" stroke-width="0.1" text-anchor="middle">total epochs: 331</text>
<rect x="127.4" y="380.2" width="45.5" height="12.5" rx="0.8" fill="#fff" stroke="#f2f2f2" stroke-width="0.5"/>
<line x1="128.4" y1="383.1" x2="136.6" y2="383.1" stroke="#4f88bb" stroke-opacity="0.33" stroke-width="0.9"/>
<line x1="128.4" y1="388.7" x2="136.6" y2="388.7" stroke="#eba35c" stroke-opacity="0.3" stroke-width="0.9"/>
<text class="s" x="141" y="384.6" font-size="4.7" fill="#555" stroke="#555" stroke-width="0.1">training loss</text>
<text class="s" x="141" y="390.7" font-size="4.7" fill="#555" stroke="#555" stroke-width="0.1">validation loss</text>
<line x1="27.1" y1="527" x2="27.1" y2="527.8" stroke="#d0d0d0" stroke-width="0.35"/>
<text class="s" x="27.1" y="530.1" font-size="3.2" fill="#333" text-anchor="middle">0</text>
<line x1="48.37" y1="527" x2="48.37" y2="527.8" stroke="#d0d0d0" stroke-width="0.35"/>
<text class="s" x="48.37" y="530.1" font-size="3.2" fill="#333" text-anchor="middle">50</text>
<line x1="69.64" y1="527" x2="69.64" y2="527.8" stroke="#d0d0d0" stroke-width="0.35"/>
<text class="s" x="69.64" y="530.1" font-size="3.2" fill="#333" text-anchor="middle">100</text>
<line x1="90.91" y1="527" x2="90.91" y2="527.8" stroke="#d0d0d0" stroke-width="0.35"/>
<text class="s" x="90.91" y="530.1" font-size="3.2" fill="#333" text-anchor="middle">150</text>
<line x1="112.18" y1="527" x2="112.18" y2="527.8" stroke="#d0d0d0" stroke-width="0.35"/>
<text class="s" x="112.18" y="530.1" font-size="3.2" fill="#333" text-anchor="middle">200</text>
<line x1="133.45" y1="527" x2="133.45" y2="527.8" stroke="#d0d0d0" stroke-width="0.35"/>
<text class="s" x="133.45" y="530.1" font-size="3.2" fill="#333" text-anchor="middle">250</text>
<line x1="154.72" y1="527" x2="154.72" y2="527.8" stroke="#d0d0d0" stroke-width="0.35"/>
<text class="s" x="154.72" y="530.1" font-size="3.2" fill="#333" text-anchor="middle">300</text>
<line x1="19.5" y1="407" x2="20.1" y2="407" stroke="#d0d0d0" stroke-width="0.35"/>
<text class="s" x="19.3" y="408.15" font-size="3.4" fill="#444" text-anchor="end">6 × 10<tspan font-size="2.4" dy="-1.4">−1</tspan></text>
<line x1="19.5" y1="457.2" x2="20.1" y2="457.2" stroke="#d0d0d0" stroke-width="0.35"/>
<text class="s" x="19.3" y="458.35" font-size="3.4" fill="#444" text-anchor="end">4 × 10<tspan font-size="2.4" dy="-1.4">−1</tspan></text>
<line x1="19.5" y1="492.9" x2="20.1" y2="492.9" stroke="#d0d0d0" stroke-width="0.35"/>
<text class="s" x="19.3" y="494.05" font-size="3.4" fill="#444" text-anchor="end">3 × 10<tspan font-size="2.4" dy="-1.4">−1</tspan></text>
<text class="s" x="97.25" y="534.1" font-size="4.5" fill="#505050" stroke="#505050" stroke-width="0.1" text-anchor="middle">epoch</text>
<text class="s" transform="translate(7.3,452.25) rotate(-90)" font-size="4.5" fill="#505050" stroke="#505050" stroke-width="0.1" text-anchor="middle">loss</text>
<text class="c" x="56.4" y="546.2" font-size="7.6" font-weight="bold" textLength="8.6" lengthAdjust="spacingAndGlyphs">(e)</text>
<text class="c" x="65.9" y="546.2" font-size="7.6" textLength="13.3" lengthAdjust="spacingAndGlyphs">SSH</text>
<text class="c" x="79.9" y="546.2" font-size="7.6" textLength="3.6" lengthAdjust="spacingAndGlyphs">/</text>
<text class="c" x="84.2" y="546.2" font-size="7.6" textLength="36.6" lengthAdjust="spacingAndGlyphs">OpenEddy</text>
<polyline points="206.1,439.8 206.31,468.42 206.51,482.36 206.72,488.12 206.92,489.44 207.13,490.76 207.34,492.09 207.54,493.03 207.75,493.8 207.95,494.58 208.16,495.35 208.37,495.8 208.57,496.18 208.78,496.56 208.98,496.94 209.19,497.31 209.4,497.69 209.6,498.07 209.81,498.45 210.01,498.82 210.22,499.14 210.43,499.46 210.63,499.78 210.84,500.1 211.04,500.41 211.25,500.73 211.46,501.05 211.66,501.37 211.87,501.69 212.07,502.01 212.28,502.3 212.49,502.56 212.69,502.81 212.9,503.07 213.1,503.33 213.31,503.59 213.52,503.84 213.72,504.1 213.93,504.36 214.13,504.62 214.34,504.88 214.55,505.13 214.75,505.28 214.96,505.39 215.16,505.49 215.37,505.6 215.58,505.71 215.78,505.82 215.99,505.93 216.19,506.03 216.4,506.14 216.61,506.25 216.81,506.36 217.02,506.46 217.22,506.57 217.43,506.68 217.64,506.79 217.84,506.89 218.05,507 218.25,507.11 218.46,507.22 218.67,507.33 218.87,507.43 219.08,507.53 219.28,507.59 219.49,507.66 219.7,507.73 219.9,507.79 220.11,507.86 220.31,507.93 220.52,508 220.73,508.06 220.93,508.13 221.14,508.2 221.34,508.27 221.55,508.33 221.76,508.4 221.96,508.47 222.17,508.54 222.37,508.6 222.58,508.67 222.79,508.74 222.99,508.81 223.2,508.87 223.4,508.94 223.61,509.01 223.82,509.07 224.02,509.14 224.23,509.21 224.43,509.25 224.64,509.29 224.85,509.33 225.05,509.38 225.26,509.42 225.46,509.46 225.67,509.51 225.88,509.55 226.08,509.59 226.29,509.63 226.49,509.68 226.7,509.72 226.91,509.76 227.11,509.81 227.32,509.85 227.52,509.89 227.73,509.94 227.94,509.98 228.14,510.02 228.35,510.06 228.55,510.11 228.76,510.15 228.97,510.19 229.17,510.24 229.38,510.28 229.58,510.32 229.79,510.36 230,510.41 230.2,510.45 230.41,510.49 230.61,510.54 230.82,510.58 231.03,510.62 231.23,510.66 231.44,510.71 231.64,510.75 231.85,510.79 232.06,510.84 232.26,510.88 232.47,510.92 232.67,510.97 232.88,511.01 233.09,511.05 233.29,511.09 233.5,511.14 233.7,511.18 233.91,511.22 234.12,511.25 234.32,511.28 234.53,511.31 234.73,511.34 234.94,511.38 235.15,511.41 235.35,511.44 235.56,511.47 235.76,511.5 235.97,511.54 236.18,511.57 236.38,511.6 236.59,511.63 236.79,511.66 237,511.69 237.21,511.73 237.41,511.76 237.62,511.79 237.82,511.82 238.03,511.85 238.24,511.89 238.44,511.92 238.65,511.95 238.85,511.98 239.06,512.01 239.27,512.05 239.47,512.08 239.68,512.11 239.88,512.14 240.09,512.17 240.3,512.2 240.5,512.24 240.71,512.27 240.91,512.3 241.12,512.33 241.33,512.36 241.53,512.4 241.74,512.43 241.94,512.46 242.15,512.49 242.36,512.52 242.56,512.55 242.77,512.59 242.97,512.62 243.18,512.65 243.39,512.68 243.59,512.71 243.8,512.74 244,512.77 244.21,512.8 244.42,512.83 244.62,512.87 244.83,512.9 245.03,512.93 245.24,512.96 245.45,512.99 245.65,513.02 245.86,513.05 246.06,513.08 246.27,513.11 246.48,513.14 246.68,513.17 246.89,513.2 247.09,513.23 247.3,513.26 247.51,513.29 247.71,513.32 247.92,513.35 248.12,513.38 248.33,513.41 248.54,513.44 248.74,513.47 248.95,513.5 249.15,513.53 249.36,513.56 249.57,513.59 249.77,513.62 249.98,513.65 250.18,513.69 250.39,513.72 250.6,513.75 250.8,513.78 251.01,513.81 251.21,513.84 251.42,513.87 251.63,513.9 251.83,513.93 252.04,513.96 252.24,513.99 252.45,514.02 252.66,514.05 252.86,514.08 253.07,514.11 253.27,514.15 253.48,514.19 253.69,514.23 253.89,514.27 254.1,514.32 254.3,514.36 254.51,514.4 254.72,514.44 254.92,514.48 255.13,514.52 255.33,514.56 255.54,514.6 255.75,514.64 255.95,514.68 256.16,514.72 256.36,514.76 256.57,514.8 256.78,514.84 256.98,514.88 257.19,514.92 257.39,514.96 257.6,515 257.81,515.04 258.01,515.08 258.22,515.12 258.42,515.16 258.63,515.2 258.84,515.24 259.04,515.28 259.25,515.32 259.45,515.36 259.66,515.4 259.87,515.44 260.07,515.49 260.28,515.53 260.48,515.57 260.69,515.61 260.9,515.65 261.1,515.69 261.31,515.73 261.51,515.77 261.72,515.81 261.93,515.85 262.13,515.89 262.34,515.93 262.54,515.97 262.75,516.01 262.96,516.05 263.16,516.1 263.37,516.14 263.57,516.19 263.78,516.23 263.99,516.27 264.19,516.32 264.4,516.36 264.6,516.4 264.81,516.45 265.02,516.49 265.22,516.53 265.43,516.58 265.63,516.62 265.84,516.67 266.05,516.71 266.25,516.76 266.46,516.8 266.66,516.85 266.87,516.9 267.08,516.94 267.28,516.99 267.49,517.04 267.69,517.09 267.9,517.13 268.11,517.18 268.31,517.23 268.52,517.27 268.72,517.32 268.93,517.37 269.14,517.41 269.34,517.46 269.55,517.51 269.75,517.55 269.96,517.6 270.17,517.65 270.37,517.69 270.58,517.72 270.78,517.74 270.99,517.76 271.2,517.79 271.4,517.81 271.61,517.83 271.81,517.85 272.02,517.88 272.23,517.9 272.43,517.92 272.64,517.94 272.84,517.97 273.05,517.99 273.26,518.01 273.46,518.03 273.67,518.06 273.87,518.08 274.08,518.1 274.29,518.12 274.49,518.14 274.7,518.17 274.9,518.19 275.11,518.2 275.32,518.21 275.52,518.22 275.73,518.22 275.93,518.23 276.14,518.24 276.35,518.24 276.55,518.25 276.76,518.26 276.96,518.26 277.17,518.27 277.38,518.28 277.58,518.28 277.79,518.29 277.99,518.3 278.2,518.3 278.41,518.31 278.61,518.32 278.82,518.32 279.02,518.33 279.23,518.34 279.44,518.34 279.64,518.35 279.85,518.36 280.05,518.36 280.26,518.37 280.47,518.37 280.67,518.38 280.88,518.39 281.08,518.39 281.29,518.4 281.5,518.41 281.7,518.41 281.91,518.42 282.11,518.43 282.32,518.43 282.53,518.44 282.73,518.45 282.94,518.45 283.14,518.46 283.35,518.47 283.56,518.47 283.76,518.48 283.97,518.49 284.17,518.49 284.38,518.5 284.59,518.51 284.79,518.51 285,518.52 285.2,518.53 285.41,518.53 285.62,518.54 285.82,518.55 286.03,518.55 286.23,518.56 286.44,518.57 286.65,518.57 286.85,518.58 287.06,518.59 287.26,518.59 287.47,518.6 287.68,518.61 287.88,518.61 288.09,518.62 288.29,518.63 288.5,518.63 288.71,518.64 288.91,518.65 289.12,518.65 289.32,518.66 289.53,518.66 289.74,518.67 289.94,518.68 290.15,518.68 290.35,518.69 290.56,518.7 290.77,518.7 290.97,518.71 291.18,518.72 291.38,518.72 291.59,518.73 291.8,518.74 292,518.74 292.21,518.75 292.41,518.76 292.62,518.76 292.83,518.77 293.03,518.78 293.24,518.78 293.44,518.79 293.65,518.8 293.86,518.8 294.06,518.81 294.27,518.82 294.47,518.82 294.68,518.83 294.89,518.84 295.09,518.84 295.3,518.85 295.5,518.86 295.71,518.86 295.92,518.87 296.12,518.88 296.33,518.88 296.53,518.89 296.74,518.9 296.95,518.9 297.15,518.91 297.36,518.92 297.56,518.92 297.77,518.93 297.98,518.94 298.18,518.94 298.39,518.95 298.59,518.96 298.8,518.96 299.01,518.97 299.21,518.97 299.42,518.98 299.62,518.99 299.83,518.99 300.04,519 300.24,519 300.45,519 300.65,519.01 300.86,519.01 301.07,519.01 301.27,519.01 301.48,519.01 301.68,519.01 301.89,519.02 302.1,519.02 302.3,519.02 302.51,519.02 302.71,519.02 302.92,519.03 303.13,519.03 303.33,519.03 303.54,519.03 303.74,519.03 303.95,519.03 304.16,519.04 304.36,519.04 304.57,519.04 304.77,519.04 304.98,519.04 305.19,519.05 305.39,519.05 305.6,519.05 305.8,519.05 306.01,519.05 306.22,519.05 306.42,519.06 306.63,519.06 306.83,519.06 307.04,519.06 307.25,519.06 307.45,519.07 307.66,519.07 307.86,519.07 308.07,519.07 308.28,519.07 308.48,519.07 308.69,519.08 308.89,519.08 309.1,519.08 309.31,519.08 309.51,519.08 309.72,519.09 309.92,519.09 310.13,519.09 310.34,519.09 310.54,519.09 310.75,519.09 310.95,519.1 311.16,519.1 311.37,519.1 311.57,519.1 311.78,519.1 311.98,519.11 312.19,519.11 312.4,519.11 312.6,519.11 312.81,519.11 313.01,519.11 313.22,519.12 313.43,519.12 313.63,519.12 313.84,519.12 314.04,519.12 314.25,519.13 314.46,519.13 314.66,519.13 314.87,519.13 315.07,519.13 315.28,519.13 315.49,519.14 315.69,519.14 315.9,519.14 316.1,519.14 316.31,519.14 316.52,519.15 316.72,519.15 316.93,519.15 317.13,519.15 317.34,519.15 317.55,519.15 317.75,519.16 317.96,519.16 318.16,519.16 318.37,519.16 318.58,519.16 318.78,519.17 318.99,519.17 319.19,519.17 319.4,519.17 319.61,519.17 319.81,519.17 320.02,519.18 320.22,519.18 320.43,519.18 320.64,519.18 320.84,519.18 321.05,519.19 321.25,519.19 321.46,519.19 321.67,519.19 321.87,519.19 322.08,519.19 322.28,519.2 322.49,519.2 322.7,519.2 322.9,519.2 323.11,519.2 323.31,519.2 323.52,519.21 323.73,519.21 323.93,519.21 324.14,519.21 324.34,519.21 324.55,519.22 324.76,519.22 324.96,519.22 325.17,519.22 325.37,519.22 325.58,519.22 325.79,519.23 325.99,519.23 326.2,519.23 326.4,519.23 326.61,519.23 326.82,519.24 327.02,519.24 327.23,519.24 327.43,519.24 327.64,519.24 327.85,519.24 328.05,519.25 328.26,519.25 328.46,519.25 328.67,519.25 328.88,519.25 329.08,519.26 329.29,519.26 329.49,519.26 329.7,519.26 329.91,519.26 330.11,519.26 330.32,519.27 330.52,519.27 330.73,519.27 330.94,519.27 331.14,519.27 331.35,519.28 331.55,519.28 331.76,519.28 331.97,519.28 332.17,519.28 332.38,519.28 332.58,519.29 332.79,519.29 333,519.29 333.2,519.29 333.41,519.29 333.61,519.3 333.82,519.3 334.03,519.3 334.23,519.3 334.44,519.3 334.64,519.3 334.85,519.31 335.06,519.31 335.26,519.31 335.47,519.31 335.67,519.31 335.88,519.32 336.09,519.32 336.29,519.32 336.5,519.32 336.7,519.32 336.91,519.32 337.12,519.33 337.32,519.33 337.53,519.33 337.73,519.33 337.94,519.33 338.15,519.34 338.35,519.34 338.56,519.34 338.76,519.34 338.97,519.34 339.18,519.34 339.38,519.35 339.59,519.35 339.79,519.35 340,519.35 340.21,519.35 340.41,519.36 340.62,519.36 340.82,519.36 341.03,519.36 341.24,519.36 341.44,519.36 341.65,519.37 341.85,519.37 342.06,519.37 342.27,519.37 342.47,519.37 342.68,519.38 342.88,519.38 343.09,519.38 343.3,519.38 343.5,519.38 343.71,519.38 343.91,519.39 344.12,519.39 344.33,519.39 344.53,519.39 344.74,519.39 344.94,519.4 345.15,519.4 345.36,519.4 345.56,519.4 345.77,519.4 345.97,519.4 346.18,519.4" fill="none" stroke="#4f88bb" stroke-opacity="0.36" stroke-width="1.0" stroke-linejoin="round"/>
<polyline points="206.1,384.3 206.31,440.96 206.51,472.72 206.72,483.92 206.92,485.74 207.13,487.91 207.34,489.75 207.54,491.25 207.75,491.94 207.95,492.65 208.16,493.39 208.37,493.95 208.57,494.02 208.78,494.65 208.98,494.88 209.19,495.82 209.4,495.65 209.6,496.61 209.81,496.51 210.01,497.35 210.22,497.43 210.43,497.79 210.63,498.42 210.84,498.16 211.04,498.51 211.25,499.42 211.46,499.46 211.66,499.48 211.87,500.43 212.07,500.72 212.28,500.44 212.49,500.93 212.69,501 212.9,501.4 213.1,501.89 213.31,501.84 213.52,502.49 213.72,502.32 213.93,502.67 214.13,503.4 214.34,503.38 214.55,503.67 214.75,503.96 214.96,504 215.16,504.07 215.37,503.94 215.58,427.7 215.78,504.85 215.99,504.99 216.19,504.89 216.4,504.8 216.61,504.94 216.81,505.29 217.02,505.41 217.22,505.14 217.43,505.35 217.64,505.57 217.84,505.8 218.05,506.13 218.25,506.04 218.46,505.84 218.67,506.52 218.87,506.37 219.08,506.54 219.28,506.4 219.49,506.62 219.7,506.66 219.9,507 220.11,506.61 220.31,506.99 220.52,495.8 220.73,507.23 220.93,506.84 221.14,507.08 221.34,507.2 221.55,507.48 221.76,507.14 221.96,507.5 222.17,507.39 222.37,507.52 222.58,507.72 222.79,508.13 222.99,507.87 223.2,508.27 223.4,507.79 223.61,508.39 223.82,508.07 224.02,508.02 224.23,508.48 224.43,508.64 224.64,508.05 224.85,508.27 225.05,508.67 225.26,508.41 225.46,508.38 225.67,508.26 225.88,508.33 226.08,508.78 226.29,509.07 226.49,504.2 226.7,508.82 226.91,508.53 227.11,508.78 227.32,509.15 227.52,509.22 227.73,509.13 227.94,508.89 228.14,509.14 228.35,509.15 228.55,509.3 228.76,509.08 228.97,509.61 229.17,509.61 229.38,509.14 229.58,509.28 229.79,509.73 230,509.35 230.2,509.86 230.41,509.6 230.61,509.77 230.82,509.82 231.03,509.52 231.23,509.61 231.44,509.64 231.64,509.98 231.85,510.03 232.06,509.68 232.26,510.25 232.47,509.97 232.67,472.3 232.88,510.06 233.09,510.49 233.29,510.24 233.5,510.32 233.7,510.57 233.91,510.64 234.12,510.53 234.32,510.32 234.53,510.47 234.73,510.73 234.94,510.68 235.15,510.56 235.35,510.43 235.56,510.48 235.76,510.77 235.97,510.68 236.18,510.33 236.38,510.85 236.59,511.01 236.79,510.97 237,511.07 237.21,511.11 237.41,510.88 237.62,511.09 237.82,510.84 238.03,505.7 238.24,510.88 238.44,510.89 238.65,511.35 238.85,511.21 239.06,511.14 239.27,511.23 239.47,510.91 239.68,511.23 239.88,511.38 240.09,511.2 240.3,511.13 240.5,511.27 240.71,511.24 240.91,511.53 241.12,511.18 241.33,511.18 241.53,511.36 241.74,511.66 241.94,511.74 242.15,511.7 242.36,511.93 242.56,511.56 242.77,511.36 242.97,511.71 243.18,511.71 243.39,511.56 243.59,480 243.8,511.74 244,511.7 244.21,511.79 244.42,512.26 244.62,511.63 244.83,511.91 245.03,511.89 245.24,511.87 245.45,512.06 245.65,511.94 245.86,512.47 246.06,512.21 246.27,512.38 246.48,512.03 246.68,512.28 246.89,512.41 247.09,512.61 247.3,494.7 247.51,512.4 247.71,512.71 247.92,512.73 248.12,512.34 248.33,512.59 248.54,512.78 248.74,512.55 248.95,512.78 249.15,512.81 249.36,513.06 249.57,512.8 249.77,512.92 249.98,512.72 250.18,513.02 250.39,512.76 250.6,512.92 250.8,512.86 251.01,512.85 251.21,512.76 251.42,512.86 251.63,513.11 251.83,512.94 252.04,512.83 252.24,513.39 252.45,513.06 252.66,513.55 252.86,513.35 253.07,513.23 253.27,513.61 253.48,513.66 253.69,513.29 253.89,513.19 254.1,513.59 254.3,513.77 254.51,513.64 254.72,513.8 254.92,513.58 255.13,513.76 255.33,513.54 255.54,513.68 255.75,513.7 255.95,513.74 256.16,513.78 256.36,514.1 256.57,513.69 256.78,513.76 256.98,513.83 257.19,499.1 257.39,514.09 257.6,513.79 257.81,514.38 258.01,506 258.22,514.44 258.42,514.15 258.63,514.45 258.84,514.19 259.04,514.11 259.25,514.65 259.45,514.66 259.66,514.27 259.87,514.77 260.07,514.21 260.28,514.44 260.48,514.27 260.69,514.42 260.9,514.45 261.1,514.87 261.31,514.61 261.51,514.58 261.72,514.61 261.93,514.73 262.13,515.15 262.34,515.01 262.54,514.69 262.75,515.14 262.96,515.08 263.16,515.06 263.37,515.16 263.57,515.29 263.78,515.44 263.99,515.28 264.19,515.41 264.4,515.34 264.6,515.5 264.81,515.37 265.02,515.43 265.22,515.55 265.43,515.73 265.63,515.47 265.84,515.96 266.05,515.71 266.25,516.01 266.46,481.1 266.66,516.19 266.87,516.05 267.08,515.92 267.28,515.95 267.49,516.15 267.69,516.3 267.9,516.41 268.11,515.97 268.31,515.97 268.52,516.06 268.72,516.09 268.93,516.12 269.14,516.14 269.34,516.36 269.55,516.32 269.75,516.77 269.96,516.77 270.17,517.07 270.37,517.12 270.58,517 270.78,517.16 270.99,516.55 271.2,516.71 271.4,517.23 271.61,516.94 271.81,516.78 272.02,517.19 272.23,516.98 272.43,517.1 272.64,516.96 272.84,516.94 273.05,516.86 273.26,517.25 273.46,517.52 273.67,517.57 273.87,517.44 274.08,517.58 274.29,517.21 274.49,517.19 274.7,517.66 274.9,517.46 275.11,517.52 275.32,517.07 275.52,517.23 275.73,517.41 275.93,517.59 276.14,517.66 276.35,517.62 276.55,517.34 276.76,517.37 276.96,517.72 277.17,517.81 277.38,517.47 277.58,517.27 277.79,517.58 277.99,517.52 278.2,517.41 278.41,517.32 278.61,517.44 278.82,517.6 279.02,517.27 279.23,517.56 279.44,517.86 279.64,517.72 279.85,517.38 280.05,517.5 280.26,517.29 280.47,517.74 280.67,517.67 280.88,517.36 281.08,517.63 281.29,517.67 281.5,517.66 281.7,517.53 281.91,517.49 282.11,517.53 282.32,517.98 282.53,517.52 282.73,517.65 282.94,517.63 283.14,517.43 283.35,517.6 283.56,517.47 283.76,517.56 283.97,517.59 284.17,517.59 284.38,518.01 284.59,517.56 284.79,517.6 285,517.83 285.2,517.65 285.41,517.74 285.62,517.84 285.82,517.45 286.03,517.87 286.23,517.48 286.44,517.59 286.65,517.99 286.85,518.12 287.06,517.91 287.26,517.56 287.47,517.76 287.68,517.65 287.88,518.05 288.09,517.63 288.29,517.61 288.5,517.93 288.71,517.93 288.91,517.91 289.12,517.84 289.32,518.18 289.53,517.84 289.74,518.18 289.94,517.8 290.15,517.86 290.35,517.79 290.56,518.05 290.77,518.08 290.97,517.73 291.18,517.94 291.38,518.08 291.59,517.93 291.8,518.05 292,518.03 292.21,518.1 292.41,517.86 292.62,517.83 292.83,517.64 293.03,518.25 293.24,518.19 293.44,517.91 293.65,518.32 293.86,518.29 294.06,517.77 294.27,518.25 294.47,517.97 294.68,517.9 294.89,517.87 295.09,517.98 295.3,517.74 295.5,517.74 295.71,517.79 295.92,517.93 296.12,517.84 296.33,517.82 296.53,518.32 296.74,518.01 296.95,518.1 297.15,518.18 297.36,518.42 297.56,517.87 297.77,517.94 297.98,518.39 298.18,518.43 298.39,518.45 298.59,518.17 298.8,518.07 299.01,517.95 299.21,518.46 299.42,518.37 299.62,518.22 299.83,518.4 300.04,518.03 300.24,518.23 300.45,518.49 300.65,517.93 300.86,518.29 301.07,517.99 301.27,518.44 301.48,518.45 301.68,518.31 301.89,518.17 302.1,517.88 302.3,518.21 302.51,518.12 302.71,518.15 302.92,517.92 303.13,518.51 303.33,518.24 303.54,518.27 303.74,518.46 303.95,518.5 304.16,518.26 304.36,518.26 304.57,518.47 304.77,518.14 304.98,518.51 305.19,517.9 305.39,518.44 305.6,518.26 305.8,518.32 306.01,518.58 306.22,518.04 306.42,518.18 306.63,518.45 306.83,518.42 307.04,518.26 307.25,518.44 307.45,518.37 307.66,518.51 307.86,518.36 308.07,518.16 308.28,518.11 308.48,517.96 308.69,517.99 308.89,517.94 309.1,518.59 309.31,518.01 309.51,518.33 309.72,518.01 309.92,518.59 310.13,518.29 310.34,518.04 310.54,518.5 310.75,518.52 310.95,518.61 311.16,518.08 311.37,518.21 311.57,518.39 311.78,518.13 311.98,518.33 312.19,518.42 312.4,518.46 312.6,518.51 312.81,518.46 313.01,518.14 313.22,518.47 313.43,518.24 313.63,518.06 313.84,517.96 314.04,518.38 314.25,518.19 314.46,518.01 314.66,518.29 314.87,518.24 315.07,518.18 315.28,518.35 315.49,518.33 315.69,518.32 315.9,518.65 316.1,518.59 316.31,518.17 316.52,518.57 316.72,518.18 316.93,518.62 317.13,518 317.34,518.19 317.55,518.62 317.75,518.43 317.96,518.46 318.16,518.11 318.37,518.06 318.58,518.64 318.78,518.02 318.99,518.1 319.19,518.28 319.4,518.55 319.61,518.45 319.81,518.68 320.02,518.53 320.22,518.29 320.43,518.62 320.64,518.21 320.84,518.02 321.05,518.66 321.25,518.61 321.46,518.45 321.67,518.33 321.87,518.14 322.08,518.15 322.28,518.04 322.49,518.06 322.7,518.34 322.9,518.63 323.11,518.65 323.31,518.36 323.52,518.48 323.73,518.33 323.93,518.55 324.14,518.5 324.34,518.7 324.55,518.6 324.76,518.49 324.96,518.43 325.17,518.13 325.37,518.35 325.58,518.33 325.79,518.13 325.99,518.16 326.2,518.31 326.4,518.15 326.61,518.46 326.82,518.26 327.02,518.72 327.23,518.51 327.43,518.39 327.64,518.34 327.85,518.31 328.05,518.18 328.26,518.71 328.46,518.68 328.67,518.49 328.88,518.5 329.08,518.14 329.29,518.42 329.49,518.16 329.7,518.27 329.91,518.46 330.11,518.17 330.32,518.21 330.52,518.56 330.73,518.39 330.94,518.68 331.14,518.17 331.35,518.12 331.55,518.71 331.76,518.49 331.97,518.55 332.17,518.45 332.38,518.17 332.58,518.75 332.79,518.41 333,518.7 333.2,518.17 333.41,518.26 333.61,518.46 333.82,518.25 334.03,518.68 334.23,518.26 334.44,518.13 334.64,518.19 334.85,518.27 335.06,518.74 335.26,518.7 335.47,518.55 335.67,518.38 335.88,518.12 336.09,518.67 336.29,518.18 336.5,518.23 336.7,518.4 336.91,518.7 337.12,518.22 337.32,518.14 337.53,518.73 337.73,518.1 337.94,518.61 338.15,518.2 338.35,518.31 338.56,518.25 338.76,518.41 338.97,518.75 339.18,518.7 339.38,518.48 339.59,518.17 339.79,518.24 340,518.32 340.21,518.67 340.41,518.76 340.62,518.14 340.82,518.35 341.03,518.79 341.24,518.23 341.44,518.18 341.65,518.31 341.85,518.75 342.06,518.31 342.27,518.63 342.47,518.21 342.68,518.59 342.88,518.25 343.09,518.55 343.3,518.66 343.5,518.75 343.71,518.44 343.91,518.83 344.12,518.43 344.33,518.81 344.53,518.78 344.74,518.84 344.94,518.22 345.15,518.34 345.36,518.64 345.56,518.77 345.77,518.33 345.97,518.69 346.18,518.48" fill="none" stroke="#eba35c" stroke-opacity="0.36" stroke-width="1.0" stroke-linejoin="round"/>
<line x1="215.58" y1="504.4" x2="215.58" y2="427.7" stroke="#eba35c" stroke-opacity="0.15" stroke-width="0.9"/>
<line x1="220.52" y1="507.03" x2="220.52" y2="495.8" stroke="#eba35c" stroke-opacity="0.15" stroke-width="0.9"/>
<line x1="226.49" y1="508.78" x2="226.49" y2="504.2" stroke="#eba35c" stroke-opacity="0.15" stroke-width="0.9"/>
<line x1="232.67" y1="510.07" x2="232.67" y2="472.3" stroke="#eba35c" stroke-opacity="0.15" stroke-width="0.9"/>
<line x1="238.03" y1="510.95" x2="238.03" y2="505.7" stroke="#eba35c" stroke-opacity="0.15" stroke-width="0.9"/>
<line x1="243.59" y1="511.81" x2="243.59" y2="480" stroke="#eba35c" stroke-opacity="0.15" stroke-width="0.9"/>
<line x1="247.3" y1="512.4" x2="247.3" y2="494.7" stroke="#eba35c" stroke-opacity="0.15" stroke-width="0.9"/>
<line x1="257.19" y1="514.03" x2="257.19" y2="499.1" stroke="#eba35c" stroke-opacity="0.15" stroke-width="0.9"/>
<line x1="258.01" y1="514.18" x2="258.01" y2="506" stroke="#eba35c" stroke-opacity="0.15" stroke-width="0.9"/>
<line x1="266.46" y1="515.81" x2="266.46" y2="481.1" stroke="#eba35c" stroke-opacity="0.15" stroke-width="0.9"/>
<rect x="199.4" y="377.7" width="158.8" height="149.5" fill="none" stroke="#e0e0e0" stroke-width="0.8"/>
<text class="s" x="275.7" y="376.9" font-size="4.6" fill="#4a4a4a" stroke="#4a4a4a" stroke-width="0.1" text-anchor="middle">total epochs: 681</text>
<rect x="311.2" y="380.4" width="45.5" height="12.5" rx="0.8" fill="#fff" stroke="#f2f2f2" stroke-width="0.5"/>
<line x1="312.2" y1="383.3" x2="320.4" y2="383.3" stroke="#4f88bb" stroke-opacity="0.33" stroke-width="0.9"/>
<line x1="312.2" y1="388.9" x2="320.4" y2="388.9" stroke="#eba35c" stroke-opacity="0.3" stroke-width="0.9"/>
<text class="s" x="324.8" y="384.8" font-size="4.7" fill="#555" stroke="#555" stroke-width="0.1">training loss</text>
<text class="s" x="324.8" y="390.9" font-size="4.7" fill="#555" stroke="#555" stroke-width="0.1">validation loss</text>
<line x1="206.1" y1="527.2" x2="206.1" y2="528" stroke="#d0d0d0" stroke-width="0.35"/>
<text class="s" x="206.1" y="530.3" font-size="3.2" fill="#333" text-anchor="middle">0</text>
<line x1="226.7" y1="527.2" x2="226.7" y2="528" stroke="#d0d0d0" stroke-width="0.35"/>
<text class="s" x="226.7" y="530.3" font-size="3.2" fill="#333" text-anchor="middle">100</text>
<line x1="247.3" y1="527.2" x2="247.3" y2="528" stroke="#d0d0d0" stroke-width="0.35"/>
<text class="s" x="247.3" y="530.3" font-size="3.2" fill="#333" text-anchor="middle">200</text>
<line x1="267.9" y1="527.2" x2="267.9" y2="528" stroke="#d0d0d0" stroke-width="0.35"/>
<text class="s" x="267.9" y="530.3" font-size="3.2" fill="#333" text-anchor="middle">300</text>
<line x1="288.5" y1="527.2" x2="288.5" y2="528" stroke="#d0d0d0" stroke-width="0.35"/>
<text class="s" x="288.5" y="530.3" font-size="3.2" fill="#333" text-anchor="middle">400</text>
<line x1="309.1" y1="527.2" x2="309.1" y2="528" stroke="#d0d0d0" stroke-width="0.35"/>
<text class="s" x="309.1" y="530.3" font-size="3.2" fill="#333" text-anchor="middle">500</text>
<line x1="329.7" y1="527.2" x2="329.7" y2="528" stroke="#d0d0d0" stroke-width="0.35"/>
<text class="s" x="329.7" y="530.3" font-size="3.2" fill="#333" text-anchor="middle">600</text>
<line x1="350.3" y1="527.2" x2="350.3" y2="528" stroke="#d0d0d0" stroke-width="0.35"/>
<text class="s" x="350.3" y="530.3" font-size="3.2" fill="#333" text-anchor="middle">700</text>
<line x1="198.8" y1="509.1" x2="199.4" y2="509.1" stroke="#d0d0d0" stroke-width="0.35"/>
<text class="s" x="198.6" y="510.25" font-size="3.4" fill="#444" text-anchor="end">10<tspan font-size="2.4" dy="-1.4">0</tspan></text>
<text class="s" x="275.7" y="534.3" font-size="4.5" fill="#505050" stroke="#505050" stroke-width="0.1" text-anchor="middle">epoch</text>
<text class="s" transform="translate(191,452.45) rotate(-90)" font-size="4.5" fill="#505050" stroke="#505050" stroke-width="0.1" text-anchor="middle">loss</text>
<text class="c" x="239.7" y="546.2" font-size="7.6" font-weight="bold" textLength="8.1" lengthAdjust="spacingAndGlyphs">(f)</text>
<text class="c" x="249.1" y="546.2" font-size="7.6" textLength="14.2" lengthAdjust="spacingAndGlyphs">SLA</text>
<text class="c" x="264" y="546.2" font-size="7.6" textLength="3.6" lengthAdjust="spacingAndGlyphs">/</text>
<text class="c" x="268.3" y="546.2" font-size="7.6" textLength="34.2" lengthAdjust="spacingAndGlyphs">OpenEddy</text>
</svg></body></html>
